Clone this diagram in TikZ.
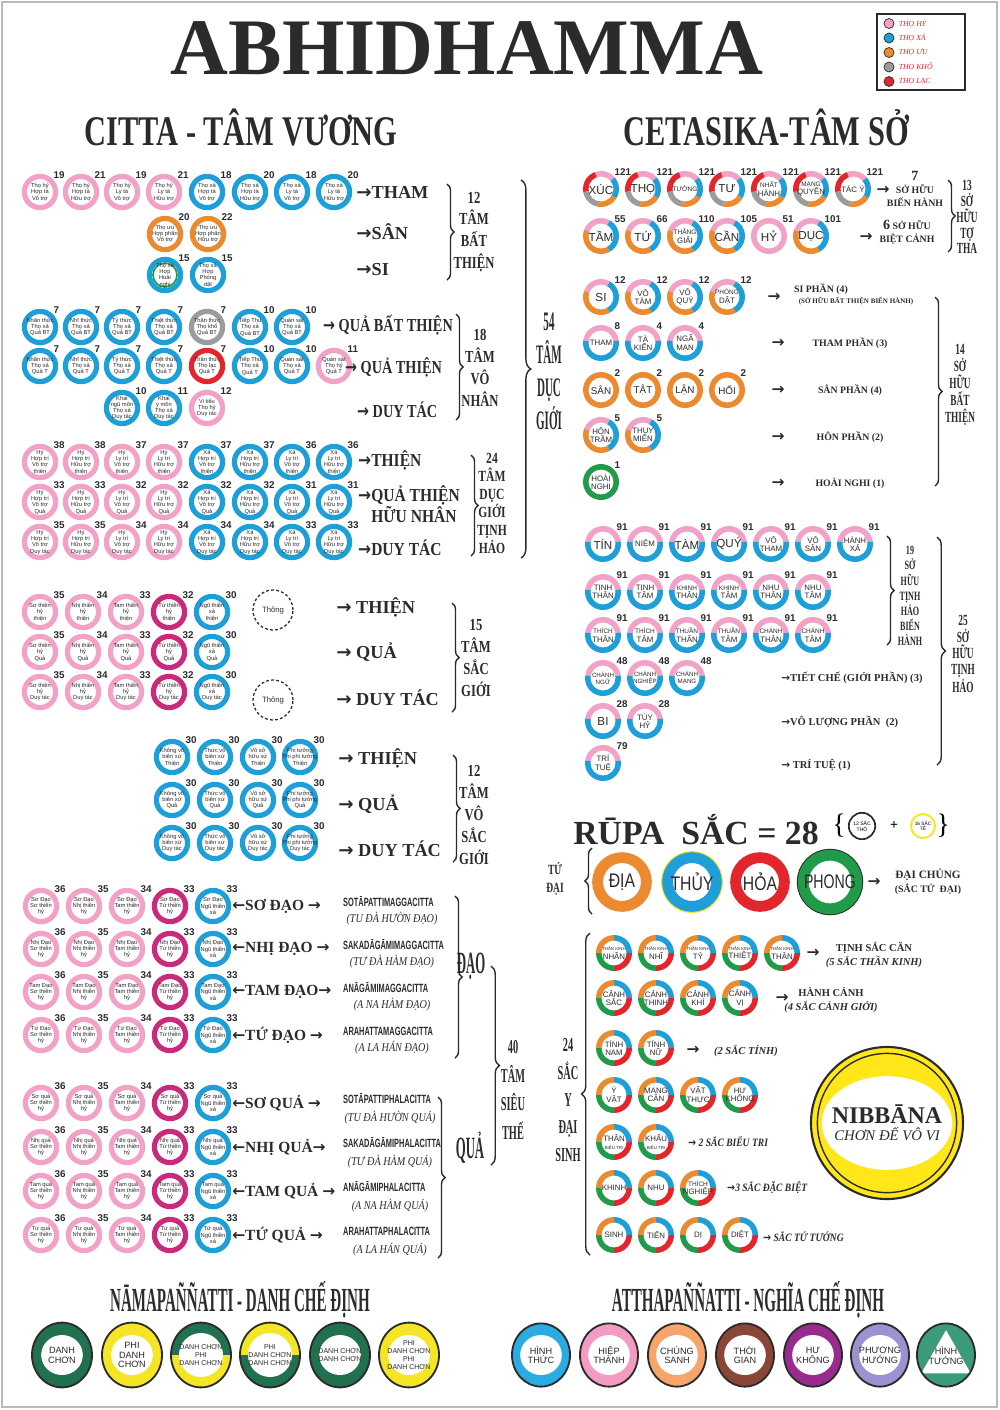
\documentclass[tikz,border=0pt]{standalone}
\usepackage{fontspec}
\usepackage{graphicx}
\setmainfont{Liberation Serif}
\setsansfont{Liberation Sans}
\newfontfamily\arrfont{DejaVu Sans}
\usetikzlibrary{positioning, calc, decorations.pathreplacing, shapes.geometric}

\definecolor{pinkc}{HTML}{F2A2C6}
\definecolor{bluec}{HTML}{1E9FD8}
\definecolor{orangec}{HTML}{EB8A2F}
\definecolor{grayc}{HTML}{9C9C9C}
\definecolor{redc}{HTML}{E2262C}
\definecolor{magc}{HTML}{C92A7C}
\definecolor{greenc}{HTML}{1F9B4A}
\definecolor{dgreenc}{HTML}{21704F}
\definecolor{yellowc}{HTML}{F4E526}
\definecolor{inkc}{HTML}{2B2B2B}
\definecolor{lblue}{HTML}{2AACE3}
\definecolor{lpink}{HTML}{F39BC3}
\definecolor{lorange}{HTML}{F6A66A}
\definecolor{brownc}{HTML}{8A4636}
\definecolor{purplec}{HTML}{9A2B8E}
\definecolor{lavc}{HTML}{9C91D1}
\definecolor{tealc}{HTML}{3C9B7B}
\definecolor{nibc}{HTML}{FFE71A}

\newcommand{\cirfont}{\sffamily\fontsize{4.1}{4.5}\selectfont}
\newcommand{\csfont}{\sffamily\fontsize{5.6}{6}\selectfont}
\newcommand{\csbig}{\fontsize{8.3}{8.3}\selectfont}
\newcommand{\cssm}{\fontsize{4.6}{5}\selectfont}
\newcommand{\csxs}{\fontsize{3.1}{3.5}\selectfont}
\newcommand{\rarr}{{\arrfont\bfseries →}}
\newcommand{\larr}{{\arrfont\bfseries ←}}
\newcommand{\pie}[3]{\fill[#1] (path picture bounding box.center) -- ++(#2:0.6cm) arc[start angle=#2, end angle=#3, radius=0.6cm] -- cycle;}
\newcommand{\hole}{\fill[white] (path picture bounding box.center) circle (0.31cm);}

\tikzset{
  % vong tron tam vuong
  cit/.style={circle, draw=#1, fill=white, line width=0.13cm, minimum size=0.78cm,
    inner sep=-3pt, align=center, font=\cirfont, text=inkc},
  num/.style={font=\sffamily\bfseries\fontsize{7}{7}\selectfont, inner sep=0.3pt, text=inkc},
  % vong tron tam so
  cring/.style={circle, minimum size=0.9cm, inner sep=-3pt, align=center, font=\csfont, text=inkc},
  seg5/.style={cring, path picture={\pie{pinkc}{40}{110}\pie{redc}{110}{190}\pie{grayc}{190}{260}\pie{orangec}{260}{330}\pie{bluec}{330}{400}\hole}},
  seg3/.style={cring, path picture={\pie{pinkc}{60}{160}\pie{orangec}{160}{300}\pie{bluec}{300}{420}\hole}},
  seg2/.style={cring, path picture={\pie{pinkc}{8}{172}\pie{bluec}{172}{368}\hole}},
  segq/.style={cring, path picture={\pie{bluec}{0}{90}\pie{orangec}{90}{180}\pie{greenc}{180}{270}\pie{redc}{270}{360}\hole}},
  sring/.style={cring, path picture={\pie{#1}{0}{360}\hole}},
  daibig/.style={circle, draw=#1, fill=white, line width=0.27cm, minimum size=1.22cm,
    inner sep=0pt, font=\sffamily\fontsize{14}{14}\selectfont, text=inkc},
  % chu
  lbl/.style={font=\bfseries\fontsize{13}{14}\selectfont, anchor=west, inner sep=0pt, text=inkc},
  lblc/.style={lbl, xscale=0.78},
  brtxt/.style={font=\bfseries\fontsize{12}{15.6}\selectfont, align=center, inner sep=0pt, xscale=0.75, text=inkc},
  brc/.style={decorate, decoration={brace, amplitude=5pt}, line width=1pt, draw=inkc},
  head/.style={font=\bfseries\fontsize{30}{32}\selectfont, inner sep=0pt, xscale=0.72, text=inkc},
  pali/.style={font=\sffamily\bfseries\fontsize{8.5}{9}\selectfont, anchor=west, inner sep=0pt, xscale=0.62, text=inkc},
  viet/.style={font=\itshape\fontsize{8.5}{9}\selectfont, inner sep=0pt, xscale=0.85, text=inkc},
  csl/.style={font=\bfseries\fontsize{7}{9}\selectfont, inner sep=0pt, align=center, text=inkc},
  arw/.style={font=\arrfont\bfseries\fontsize{11}{11}\selectfont, inner sep=0pt, text=inkc},
  nam/.style={ellipse, draw=inkc, line width=1.3pt, minimum width=1.5cm, minimum height=1.62cm,
    inner sep=-2pt, align=center, font=\sffamily\fontsize{6.5}{7}\selectfont, text=inkc, fill=#1,
    path picture={\fill[white] (path picture bounding box.center) ellipse (0.52cm and 0.5cm);}},
  namsplit/.style 2 args={ellipse, draw=inkc, line width=1.3pt, minimum width=1.5cm, minimum height=1.62cm,
    inner sep=-2pt, align=center, font=\sffamily\fontsize{5}{5.6}\selectfont, text=inkc,
    path picture={\fill[#1] (path picture bounding box.north west) rectangle (path picture bounding box.east);
      \fill[#2] (path picture bounding box.west) rectangle (path picture bounding box.south east);
      \fill[white] (path picture bounding box.center) ellipse (0.55cm and 0.55cm);}},
}

\begin{document}
\begin{tikzpicture}[x=0.025cm, y=-0.025cm]
\useasboundingbox (0,0) rectangle (1000,1410);
\draw[gray!55, line width=1pt] (2,2) rectangle (997,1407);

% -- Tieu de --
\node[font=\bfseries\fontsize{57}{57}\selectfont, text=inkc] (title) at (467,48) {ABHIDHAMMA};
\node[head] (hcitta) at (241,127) {CITTA - TÂM VƯƠNG};
\node[head] (hcet) at (766,127) {CETASIKA-TÂM SỞ};

% -- Chu thich --
\draw[inkc, line width=1pt] (877,14) rectangle (965,90);
\foreach \col/\txt [count=\i] in {pinkc/THỌ HỶ, bluec/THỌ XẢ, orangec/THỌ ƯU, grayc/THỌ KHỔ, redc/THỌ LẠC}{
  \node[circle, fill=\col, draw=inkc, line width=0.5pt, minimum size=0.25cm, inner sep=0pt] (lg\i) at (889,9+14.5*\i) {};
  \node[right=3pt of lg\i, font=\itshape\fontsize{5.5}{6}\selectfont, text=redc, inner sep=0pt] (lgt\i) {\txt};
}

% ===== 12 tam bat thien =====
\foreach \cx/\col/\txt/\nm [count=\i] in {40/pinkc/{Thọ hỷ\\Hợp tà\\Vô trợ}/19, 81/pinkc/{Thọ hỷ\\Hợp tà\\Hữu trợ}/21,
    122/pinkc/{Thọ hỷ\\Ly tà\\Vô trợ}/19, 164/pinkc/{Thọ hỷ\\Ly tà\\Hữu trợ}/21, 207/bluec/{Thọ xả\\Hợp tà\\Vô trợ}/18,
    250/bluec/{Thọ xả\\Hợp tà\\Hữu trợ}/20, 292/bluec/{Thọ xả\\Ly tà\\Vô trợ}/18, 334/bluec/{Thọ xả\\Ly tà\\Hữu trợ}/20}
  \node[cit=\col, label={[num]45:\nm}] (bt\i) at (\cx,192) {\txt};
\node[cit=orangec, label={[num]45:20}] (bt9) at (165,234) {Thọ ưu\\Hợp phấn\\Vô trợ};
\node[cit=orangec, label={[num]45:22}] (bt10) at (208,234) {Thọ ưu\\Hợp phấn\\Hữu trợ};
\node[cit=bluec, label={[num]45:15}, path picture={\draw[greenc, line width=1.2pt] (path picture bounding box.center) circle (0.3cm);}] (bt11) at (165,275) {Thọ xả\\Hợp\\Hoài\\nghi};
\node[cit=bluec, label={[num]45:15}] (bt12) at (208,275) {Thọ xả\\Hợp\\Phóng\\dật};

\node[lbl] (ltham) at (356,192) {\rarr THAM};
\node[lbl] (lsan) at (356,232) {\rarr SÂN};
\node[lbl] (lsi) at (356,270) {\rarr SI};
\draw[brc] (447,184) -- (447,280);
\node[brtxt] (t12bt) at (474,232) {12\\TÂM\\BẤT\\THIỆN};

% ===== 18 tam vo nhan =====
\foreach \cx/\col/\txt/\nm [count=\i] in {40/bluec/{Nhãn thức\\Thọ xả\\Quả BT}/7, 81/bluec/{Nhĩ thức\\Thọ xả\\Quả BT}/7,
    122/bluec/{Tỷ thức\\Thọ xả\\Quả BT}/7, 164/bluec/{Thiệt thức\\Thọ xả\\Quả BT}/7, 207/grayc/{Thân thức\\Thọ khổ\\Quả BT}/7,
    250/bluec/{Tiếp Thu\\Thọ xả\\Quả BT}/10, 292/bluec/{Quán sát\\Thọ xả\\Quả BT}/10}
  \node[cit=\col, label={[num]45:\nm}] (qbt\i) at (\cx,327) {\txt};
\foreach \cx/\col/\txt/\nm [count=\i] in {40/bluec/{Nhãn thức\\Thọ xả\\Quả T}/7, 81/bluec/{Nhĩ thức\\Thọ xả\\Quả T}/7,
    122/bluec/{Tỷ thức\\Thọ xả\\Quả T}/7, 164/bluec/{Thiệt thức\\Thọ xả\\Quả T}/7, 207/redc/{Thân thức\\Thọ lạc\\Quả T}/7,
    250/bluec/{Tiếp Thu\\Thọ xả\\Quả T}/10, 292/bluec/{Quán sát\\Thọ xả\\Quả T}/10, 334/pinkc/{Quán sát\\Thọ hỷ\\Quả T}/11}
  \node[cit=\col, label={[num]45:\nm}] (qt\i) at (\cx,366) {\txt};
\foreach \cx/\col/\txt/\nm [count=\i] in {122/bluec/{Khai\\ngũ môn\\Thọ xả\\Duy tác}/10, 164/bluec/{Khai\\ý môn\\Thọ xả\\Duy tác}/11,
    207/pinkc/{Vi tiếu\\Thọ hỷ\\Duy tác}/12}
  \node[cit=\col, label={[num]45:\nm}] (vdt\i) at (\cx,408) {\txt};

\node[lblc] (lqbt) at (323,325) {\rarr\ QUẢ BẤT THIỆN};
\node[lblc] (lqt) at (345,367) {\rarr\ QUẢ THIỆN};
\node[lblc] (lvdt) at (357,410) {\rarr\ DUY TÁC};
\draw[brc] (456,314) -- (456,420);
\node[brtxt] (t18) at (480,368) {18\\TÂM\\VÔ\\NHÂN};

% ===== 24 tam duc gioi tinh hao =====
\foreach \rs/\ry/\rb/\rk in {thiện/462/38/1, Quả/502/33/2, Duy tác/542/35/3}{
  \foreach \cx/\cc/\cf/\ct/\co/\cd [count=\i] in {40/pinkc/Hỷ/Hợp/Vô/0, 81/pinkc/Hỷ/Hợp/Hữu/0, 122/pinkc/Hỷ/Ly/Vô/1,
      164/pinkc/Hỷ/Ly/Hữu/1, 207/bluec/Xả/Hợp/Vô/1, 250/bluec/Xả/Hợp/Hữu/1, 292/bluec/Xả/Ly/Vô/2, 334/bluec/Xả/Ly/Hữu/2}{
    \pgfmathtruncatemacro{\cn}{\rb-\cd}
    \node[cit=\cc, label={[num]45:\cn}] (th\rk-\i) at (\cx,\ry) {\cf\\\ct\ trí\\\co\ trợ\\\rs};
  }
}
\node[lbl, xscale=0.85] (lth) at (358,460) {\rarr THIỆN};
\node[lbl, xscale=0.85, align=left, font=\bfseries\fontsize{13}{13.5}\selectfont] (lqth) at (358,504) {\rarr QUẢ THIỆN\\\phantom{\rarr}HỮU NHÂN};
\node[lbl, xscale=0.85] (ldt) at (358,548) {\rarr DUY TÁC};
\draw[brc] (471,455) -- (471,556);
\node[brtxt, font=\bfseries\fontsize{11}{12.8}\selectfont] (t24) at (492,503) {24\\TÂM\\DỤC\\GIỚI\\TỊNH\\HẢO};

% -- 54 tam duc gioi --
\draw[brc, decoration={amplitude=7pt}] (521,180) -- (521,558);
\node[brtxt, font=\bfseries\fontsize{19}{23.4}\selectfont, xscale=0.55] (t54) at (549,371) {54\\TÂM\\DỤC\\GIỚI};

% ===== 15 tam sac gioi =====
\foreach \rs/\ry/\rk in {thiện/612/1, Quả/652/2, Duy tác/692/3}{
  \foreach \cx/\cc/\cj/\ch/\cn [count=\i] in {40/pinkc/Sơ/hỷ/35, 83/pinkc/Nhị/hỷ/34, 126/pinkc/Tam/hỷ/33, 169/magc/Tứ/hỷ/32, 212/bluec/Ngũ/xả/30}
    \node[cit=\cc, label={[num]45:\cn}] (sg\rk-\i) at (\cx,\ry) {\cj\ thiền\\\ch\\\rs};
}
\node[circle, draw=inkc, dashed, dash pattern=on 2pt off 1.6pt, line width=0.9pt, minimum size=1.0cm, inner sep=0pt,
  font=\sffamily\fontsize{5.5}{6}\selectfont, text=inkc] (thong1) at (273,610) {Thông};
\node[circle, draw=inkc, dashed, dash pattern=on 2pt off 1.6pt, line width=0.9pt, minimum size=1.0cm, inner sep=0pt,
  font=\sffamily\fontsize{5.5}{6}\selectfont, text=inkc] (thong2) at (273,700) {Thông};
\node[lbl] (lsgt) at (336,607) {\rarr\ THIỆN};
\node[lbl] (lsgq) at (336,652) {\rarr\ QUẢ};
\node[lbl] (lsgd) at (336,698) {\rarr\ DUY TÁC};
\draw[brc] (452,603) -- (452,712);
\node[brtxt] (t15) at (476,658) {15\\TÂM\\SẮC\\GIỚI};

% ===== 12 tam vo sac gioi =====
\foreach \rs/\ry/\rk in {Thiện/757/1, Quả/800/2, Duy tác/843/3}{
  \foreach \cx/\ca/\cb [count=\i] in {172/Không vô/biên xứ, 215/Thức vô/biên xứ, 258/Vô sở/hữu xứ, 300/Phi tưởng/Phi phi tưởng}
    \node[cit=bluec, label={[num]45:30}] (vs\rk-\i) at (\cx,\ry) {\ca\\\cb\\\rs};
}
\node[lbl] (lvst) at (338,758) {\rarr\ THIỆN};
\node[lbl] (lvsq) at (338,804) {\rarr\ QUẢ};
\node[lbl] (lvsd) at (338,849) {\rarr\ DUY TÁC};
\draw[brc] (453,755) -- (453,862);
\node[brtxt] (t12vs) at (474,815) {12\\TÂM\\VÔ\\SẮC\\GIỚI};

% ===== 40 tam sieu the: dao =====
\foreach \rw/\ry/\rk in {Sơ/906/1, Nhị/949/2, Tam/992/3, Tứ/1035/4}{
  \foreach \cx/\cc/\cj/\ch/\cn [count=\i] in {41/pinkc/Sơ/hỷ/36, 84/pinkc/Nhị/hỷ/35, 127/pinkc/Tam/hỷ/34, 170/magc/Tứ/hỷ/33, 213/bluec/Ngũ/xả/33}
    \node[cit=\cc, label={[num]45:\cn}] (dao\rk-\i) at (\cx,\ry) {\rw\ Đạo\\\cj\ thiền\\\ch};
}
\foreach \ry/\ar/\pl/\vt [count=\i] in {906/{\larr SƠ ĐẠO \rarr}/SOTĀPATTIMAGGACITTA/{(TU ĐÀ HƯỜN ĐẠO)},
    949/{\larr NHỊ ĐẠO \rarr}/SAKADĀGĀMIMAGGACITTA/{(TƯ ĐÀ HÀM ĐẠO)}, 992/{\larr TAM ĐẠO\rarr}/ANĀGĀMIMAGGACITTA/{(A NA HÀM ĐẠO)},
    1035/{\larr TỨ ĐẠO \rarr}/ARAHATTAMAGGACITTA/{(A LA HÁN ĐẠO)}}{
  \node[lbl, font=\bfseries\fontsize{11}{12}\selectfont] (daol\i) at (232,\ry) {\ar};
  \node[pali] (daop\i) at (343,\ry-4) {\pl};
  \node[viet] (daov\i) at (392,\ry+13) {\vt};
}
\draw[brc] (455,896) -- (455,1058);
\node[brtxt, font=\bfseries\fontsize{22}{22}\selectfont, xscale=0.55] (tdao) at (471,966) {ĐẠO};

% ===== 40 tam sieu the: qua =====
\foreach \rw/\ry/\rk in {Sơ/1103/1, Nhị/1147/2, Tam/1191/3, Tứ/1235/4}{
  \foreach \cx/\cc/\cj/\ch/\cn [count=\i] in {41/pinkc/Sơ/hỷ/36, 84/pinkc/Nhị/hỷ/35, 127/pinkc/Tam/hỷ/34, 170/magc/Tứ/hỷ/33, 213/bluec/Ngũ/xả/33}
    \node[cit=\cc, label={[num]45:\cn}] (qua\rk-\i) at (\cx,\ry) {\rw\ quả\\\cj\ thiền\\\ch};
}
\foreach \ry/\ar/\pl/\vt [count=\i] in {1103/{\larr SƠ QUẢ \rarr}/SOTĀPATTIPHALACITTA/{(TU ĐÀ HƯỜN QUẢ)},
    1147/{\larr NHỊ QUẢ\rarr}/SAKADĀGĀMIPHALACITTA/{(TƯ ĐÀ HÀM QUẢ)}, 1191/{\larr TAM QUẢ \rarr}/ANĀGĀMIPHALACITTA/{(A NA HÀM QUẢ)},
    1235/{\larr TỨ QUẢ \rarr}/ARAHATTAPHALACITTA/{(A LA HÁN QUẢ)}}{
  \node[lbl, font=\bfseries\fontsize{11}{12}\selectfont] (qual\i) at (232,\ry) {\ar};
  \node[pali] (quap\i) at (343,\ry-4) {\pl};
  \node[viet] (quav\i) at (390,\ry+15) {\vt};
}
\draw[brc] (438,1097) -- (438,1258);
\node[brtxt, font=\bfseries\fontsize{22}{22}\selectfont, xscale=0.55] (tqua) at (470,1148) {QUẢ};

\draw[brc, decoration={amplitude=6pt}] (491,966) -- (491,1165);
\node[brtxt, font=\bfseries\fontsize{14}{20.5}\selectfont, xscale=0.7] (t40) at (513,1090) {40\\TÂM\\SIÊU\\THẾ};

% ===== Cetasika: 13 so huu to tha =====
\foreach \cx/\txt [count=\i] in {601/{\csbig XÚC}, 643/{\csbig THỌ}, 685/{\cssm TƯỞNG}, 727/{\csbig TƯ}, 769/{\cssm NHẤT\\HÀNH},
    811/{\cssm MẠNG\\QUYỀN}, 853/{TÁC Ý}}
  \node[seg5, label={[num]45:121}] (bh\i) at (\cx,189) {\txt};
\foreach \cx/\txt/\nm [count=\i] in {601/{\csbig TẦM}/55, 643/{\csbig TỨ}/66, 685/{\cssm THẮNG\\GIẢI}/110, 727/{\csbig CẦN}/105, 811/{\csbig DỤC}/101}
  \node[seg3, label={[num]45:\nm}] (bc\i) at (\cx,236) {\txt};
\node[sring=pinkc, label={[num]45:51}] (bchy) at (769,236) {\csbig HỶ};
\node[arw] (abh) at (883,190) {→};
\node[csl, font=\bfseries\fontsize{7}{9}\selectfont] (lbh) at (915,189) {{\fontsize{10}{10}\selectfont 7}\\SỞ HỮU\\BIẾN HÀNH};
\node[arw] (abc) at (866,237) {→};
\node[csl] (lbc) at (907,232) {{\fontsize{10}{10}\selectfont 6} SỞ HỮU\\BIỆT CẢNH};
\draw[brc] (948,180) -- (948,252);
\node[brtxt, font=\bfseries\fontsize{11}{11.3}\selectfont, xscale=0.8] (t13) at (967,217) {13\\SỞ\\HỮU\\TỢ\\THA};

% ===== 14 so huu bat thien =====
\foreach \cx/\txt [count=\i] in {601/{\csbig SI}, 643/{VÔ\\TÀM}, 685/{VÔ\\QUÝ}, 727/{\cssm PHÓNG\\DẬT}}
  \node[seg3, label={[num]45:12}] (si\i) at (\cx,297) {\txt};
\foreach \cx/\txt/\nm [count=\i] in {601/{THAM}/8, 643/{TÀ\\KIẾN}/4, 685/{NGÃ\\MẠN}/4}
  \node[seg2, label={[num]45:\nm}] (tp\i) at (\cx,343) {\txt};
\foreach \cx/\txt [count=\i] in {601/SÂN, 643/TẬT, 685/LẬN, 727/HỐI}
  \node[sring=orangec, label={[num]45:2}, font=\sffamily\fontsize{7}{7}\selectfont] (sp\i) at (\cx,390) {\txt};
\node[seg3, label={[num]45:5}] (hp1) at (601,435) {HÔN\\TRẦM};
\node[seg3, label={[num]45:5}] (hp2) at (643,435) {THỤY\\MIÊN};
\node[sring=greenc, label={[num]45:1}] (hn1) at (601,482) {HOÀI\\NGHI};

\node[arw] (asi) at (774,297) {→};
\node[csl] (lsi1) at (821,289) {SI PHẦN (4)};
\node[csl, font=\bfseries\fontsize{5}{5}\selectfont] (lsi2) at (856,301) {(SỞ HỮU BẤT THIỆN BIẾN HÀNH)};
\foreach \ry/\txt [count=\i] in {343/THAM PHẦN (3), 390/SÂN PHẦN (4), 437/HÔN PHẦN (2), 483/HOÀI NGHI (1)}{
  \node[arw] (abt\i) at (778,\ry) {→};
  \node[csl] (lbt\i) at (850,\ry) {\txt};
}
\draw[brc] (935,297) -- (935,486);
\node[brtxt, font=\bfseries\fontsize{11}{12}\selectfont, xscale=0.8] (t14) at (960,385) {14\\SỞ\\HỮU\\BẤT\\THIỆN};

% ===== 25 so huu tinh hao =====
\foreach \cx/\txt [count=\i] in {603/{\csbig TÍN}, 645/NIỆM, 687/{\csbig TÀM}, 729/{\csbig QUÝ}, 771/{VÔ\\THAM}, 813/{VÔ\\SÂN}, 855/{HÀNH\\XẢ}}
  \node[seg2, label={[num]45:91}] (th1\i) at (\cx,544) {\txt};
\foreach \cx/\txt [count=\i] in {603/{TỊNH\\THÂN}, 645/{TỊNH\\TÂM}, 687/{\cssm KHINH\\THÂN}, 729/{\cssm KHINH\\TÂM}, 771/{NHU\\THÂN}, 813/{NHU\\TÂM}}
  \node[seg2, label={[num]45:91}] (th2\i) at (\cx,592) {\txt};
\foreach \cx/\txt [count=\i] in {603/{\cssm THÍCH\\THÂN}, 645/{\cssm THÍCH\\TÂM}, 687/{\cssm THUẦN\\THÂN}, 729/{\cssm THUẦN\\TÂM}, 771/{\cssm CHÁNH\\THÂN}, 813/{\cssm CHÁNH\\TÂM}}
  \node[seg2, label={[num]45:91}] (th3\i) at (\cx,635) {\txt};
\foreach \cx/\txt [count=\i] in {603/{CHÁNH\\NGỮ}, 645/{CHÁNH\\NGHIỆP}, 687/{CHÁNH\\MẠNG}}
  \node[seg2, label={[num]45:48}, font=\sffamily\fontsize{4.4}{4.8}\selectfont] (tc\i) at (\cx,678) {\txt};
\node[seg2, label={[num]45:28}] (vl1) at (603,721) {\csbig BI};
\node[seg2, label={[num]45:28}] (vl2) at (645,721) {TÙY\\HỶ};
\node[seg2, label={[num]45:79}] (tt1) at (603,763) {TRÍ\\TUỆ};

\draw[brc] (887,536) -- (887,645);
\node[brtxt, font=\bfseries\fontsize{9}{10.8}\selectfont, xscale=0.85] (t19) at (910,596) {19\\SỞ\\HỮU\\TỊNH\\HẢO\\BIẾN\\HÀNH};
\draw[brc, decoration={amplitude=6pt}] (937,537) -- (937,765);
\node[brtxt, font=\bfseries\fontsize{11}{11.5}\selectfont, xscale=0.8] (t25) at (963,654) {25\\SỞ\\HỮU\\TỊNH\\HẢO};
\node[csl, anchor=west, font=\bfseries\fontsize{7.5}{8}\selectfont] (ltc) at (781,678) {\rarr TIẾT CHẾ (GIỚI PHẦN) (3)};
\node[csl, anchor=west, font=\bfseries\fontsize{7.5}{8}\selectfont] (lvl) at (781,722) {\rarr VÔ LƯỢNG PHẦN\ \ (2)};
\node[csl, anchor=west, font=\bfseries\fontsize{7.5}{8}\selectfont] (ltt) at (781,765) {\rarr\ TRÍ TUỆ (1)};

% ===== Rupa =====
\node[font=\bfseries\fontsize{24}{24}\selectfont, text=inkc, inner sep=0pt] (hrupa) at (696,830) {RŪPA\ \ SẮC = 28};
\node[font=\fontsize{20}{20}\selectfont, inner sep=0pt] (rbl) at (839,826) {\{};
\node[circle, draw=inkc, line width=1.2pt, minimum size=0.66cm, inner sep=0pt, align=center,
  font=\sffamily\fontsize{3.6}{4}\selectfont] (stho) at (862,826) {12 SẮC\\THÔ};
\node[font=\bfseries\fontsize{10}{10}\selectfont, inner sep=0pt] (rplus) at (894,826) {+};
\node[circle, draw=yellowc, line width=1.4pt, minimum size=0.6cm, inner sep=0pt, align=center,
  font=\sffamily\fontsize{3.4}{3.8}\selectfont] (ste) at (923,826) {16 SẮC\\TẾ};
\node[font=\fontsize{20}{20}\selectfont, inner sep=0pt] (rbr) at (943,826) {\}};

\node[brtxt, font=\bfseries\fontsize{10}{12.5}\selectfont, xscale=0.9] (ttd) at (555,879) {TỨ\\ĐẠI};
\draw[brc] (592,914) -- (592,848);
\node[daibig=orangec] (dia) at (622,882) {\scalebox{0.8}[1]{ĐỊA}};
\node[daibig=bluec, preaction={draw=yellowc, line width=0.33cm}] (thuy) at (692,882) {\scalebox{0.8}[1]{THỦY}};
\node[daibig=redc] (hoa) at (760,882) {\scalebox{0.8}[1]{HỎA}};
\node[daibig=greenc, preaction={draw=inkc, line width=0.32cm}] (phong) at (830,882) {\scalebox{0.72}[1]{PHONG}};
\node[arw] (adc) at (874,882) {→};
\node[csl, font=\bfseries\fontsize{8}{10}\selectfont] (ldc) at (928,882) {ĐẠI CHỦNG\\{\fontsize{7}{8}\selectfont(SẮC TỨ\ \ ĐẠI)}};

% -- 24 sac y dai sinh --
\draw[brc, decoration={amplitude=6pt}] (590,1255) -- (590,933);
\node[brtxt, font=\bfseries\fontsize{14}{19.5}\selectfont, xscale=0.7] (t24s) at (568,1100) {24\\SẮC\\Y\\ĐẠI\\SINH};
\foreach \cx/\txt [count=\i] in {614/NHÃN, 656/NHĨ, 698/TỶ, 740/THIỆT, 782/THÂN}
  \node[segq] (tk\i) at (\cx,953) {{\csxs THẦN KINH}\\\txt};
\foreach \cx/\txt [count=\i] in {614/SẮC, 656/THINH, 698/KHÍ, 740/VỊ}
  \node[segq] (cg\i) at (\cx,998) {CẢNH\\\txt};
\node[segq] (tn1) at (614,1048) {TÍNH\\NAM};
\node[segq] (tn2) at (656,1048) {TÍNH\\NỮ};
\foreach \cx/\txt [count=\i] in {614/{Ý\\VẬT}, 656/{MANG\\CĂN}, 698/{VẬT\\THỰC}, 740/{HƯ\\KHÔNG}}
  \node[segq] (yv\i) at (\cx,1095) {\txt};
\node[segq] (bt1s) at (614,1142) {THÂN\\{\csxs BIỂU TRI}};
\node[segq] (bt2s) at (656,1142) {KHẨU\\{\csxs BIỂU TRI}};
\foreach \cx/\txt [count=\i] in {614/KHINH, 656/NHU, 698/{\cssm THÍCH\\NGHIỆP}}
  \node[segq] (db\i) at (\cx,1188) {\txt};
\foreach \cx/\txt [count=\i] in {614/SINH, 656/TIẾN, 698/DỊ, 740/DIỆT}
  \node[segq] (tt\i) at (\cx,1235) {\txt};

\node[arw] (atk) at (813,953) {→};
\node[csl, font=\bfseries\fontsize{7.5}{9.5}\selectfont] (ltk) at (874,955) {TỊNH SẮC CĂN\\\textit{(5 SẮC THẦN KINH)}};
\node[arw] (acg) at (782,998) {→};
\node[csl, font=\bfseries\fontsize{7.5}{9.5}\selectfont] (lcg) at (831,1000) {HÀNH CẢNH\\\textit{(4 SẮC CẢNH GIỚI)}};
\node[arw] (atn) at (693,1050) {→};
\node[csl, font=\bfseries\itshape\fontsize{7.5}{8}\selectfont] (ltn) at (746,1051) {(2 SẮC TÍNH)};
\node[csl, anchor=west, font=\bfseries\itshape\fontsize{8}{8}\selectfont, xscale=0.85] (lbt) at (688,1142) {\rarr\ 2 SẮC BIỂU TRI};
\node[csl, anchor=west, font=\bfseries\itshape\fontsize{8}{8}\selectfont, xscale=0.85] (ldb) at (727,1188) {\rarr 3 SẮC ĐẶC BIỆT};
\node[csl, anchor=west, font=\bfseries\itshape\fontsize{8}{8}\selectfont, xscale=0.85] (ltt) at (763,1237) {\rarr\ SẮC TỨ TƯỚNG};

% -- Nibbana --
\node[circle, draw=inkc, line width=1.5pt, fill=nibc, minimum size=3.8cm, inner sep=0pt, align=center, text=inkc,
  path picture={\draw[inkc, line width=1pt] (path picture bounding box.center) circle (1.74cm);
    \fill[white] (path picture bounding box.center) ellipse (1.63cm and 1.17cm);}] (nib) at (887,1123)
  {{\bfseries\fontsize{17}{22}\selectfont NIBBĀNA}\\{\itshape\fontsize{10.5}{12}\selectfont CHƠN ĐẾ VÔ VI}};

% ===== Che dinh =====
\node[head, font=\bfseries\fontsize{24}{26}\selectfont, xscale=0.62] (hnama) at (240,1300) {NĀMAPAÑÑATTI - DANH CHẾ ĐỊNH};
\node[head, font=\bfseries\fontsize{24}{26}\selectfont, xscale=0.62] (hattha) at (748,1300) {ATTHAPAÑÑATTI - NGHĨA CHẾ ĐỊNH};

\node[nam=dgreenc] (nm1) at (62,1355) {DANH\\CHƠN};
\node[nam=yellowc] (nm2) at (132,1355) {PHI\\DANH\\CHƠN};
\node[namsplit={dgreenc}{yellowc}] (nm3) at (201,1355) {DANH CHƠN\\PHI\\DANH CHƠN};
\node[namsplit={yellowc}{dgreenc}] (nm4) at (270,1355) {PHI\\DANH CHƠN\\DANH CHƠN};
\node[nam=dgreenc, font=\sffamily\fontsize{5}{5.6}\selectfont] (nm5) at (340,1355) {DANH CHƠN\\DANH CHƠN};
\node[nam=yellowc, font=\sffamily\fontsize{5}{5.6}\selectfont] (nm6) at (409,1355) {PHI\\DANH CHƠN\\PHI\\DANH CHƠN};

\foreach \cx/\col/\txt [count=\i] in {541/lblue/{HÌNH\\THỨC}, 609/lpink/{HIỆP\\THÀNH}, 677/lorange/{CHÚNG\\SANH},
    745/brownc/{THỜI\\GIAN}, 813/purplec/{HƯ\\KHÔNG}, 880/lavc/{PHƯƠNG\\HƯỚNG}}
  \node[nam=\col, minimum width=1.45cm, minimum height=1.58cm] (at\i) at (\cx,1355) {\txt};
\node[ellipse, draw=inkc, line width=1.3pt, minimum width=1.45cm, minimum height=1.58cm, inner sep=0pt, align=center,
  font=\sffamily\fontsize{6.5}{7}\selectfont, text=inkc, fill=tealc,
  path picture={\fill[white] ($(path picture bounding box.center)+(0,0.62cm)$) -- ++(-0.62cm,-1.08cm) -- ++(1.24cm,0) -- cycle;}]
  (at7) at (946,1355) {\\HÌNH\\TƯỚNG};

\end{tikzpicture}
\end{document}
